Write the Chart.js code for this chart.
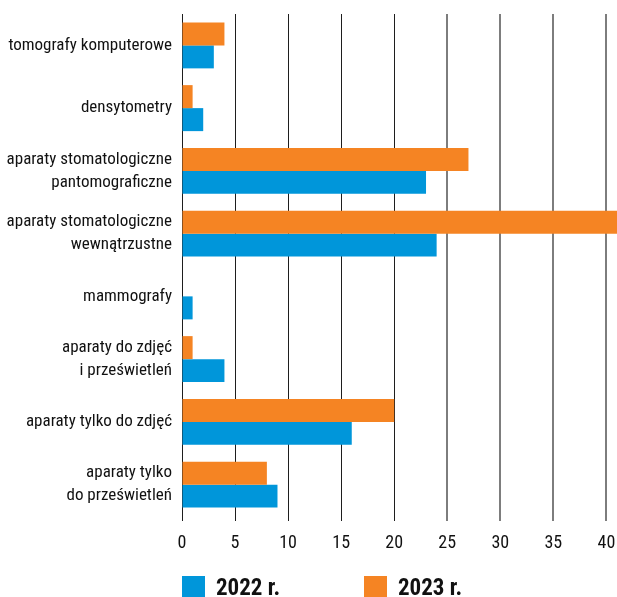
<!DOCTYPE html>
<html lang="pl">
<head>
<meta charset="utf-8">
<script src="https://cdn.jsdelivr.net/npm/chart.js@4"></script>
<style>
  html, body { margin: 0; padding: 0; background: #fff; }
  #wrap { position: relative; width: 617px; height: 597px; }
  canvas { display: block; }
  #legend {
    position: absolute; left: 182px; top: 576px;
    font-family: "Roboto Condensed", "DejaVu Sans Condensed", sans-serif;
    font-weight: bold; font-size: 23px; color: #111;
  }
  .item { position: absolute; top: 0; white-space: nowrap; }
  .box { position: absolute; left: 0; top: 0; width: 23px; height: 22px; }
  .txt { position: absolute; left: 34px; top: -1px; line-height: 26px; }
</style>
</head>
<body>
<div id="wrap">
  <canvas id="devChart" width="617" height="597"></canvas>
  <div id="legend"></div>
</div>
<script>
const categories = [
  "tomografy komputerowe",
  "densytometry",
  ["aparaty stomatologiczne", "pantomograficzne"],
  ["aparaty stomatologiczne", "wewnątrzustne"],
  "mammografy",
  ["aparaty do zdjęć", "i prześwietleń"],
  "aparaty tylko do zdjęć",
  ["aparaty tylko", "do prześwietleń"]
];
const values2022 = [3, 2, 23, 24, 1, 4, 16, 9];
const values2023 = [4, 1, 27, 41, 0, 1, 20, 8];
const xTicks = [0, 5, 10, 15, 20, 25, 30, 35, 40];

const blue = "#0096da";
const orange = "#f58423";
const labelFont = "'Roboto Condensed', 'DejaVu Sans Condensed', sans-serif";

const ctx = document.getElementById("devChart").getContext("2d");

new Chart(ctx, {
  type: "bar",
  data: {
    labels: categories,
    datasets: [
      { label: "2023 r.", data: values2023, backgroundColor: orange },
      { label: "2022 r.", data: values2022, backgroundColor: blue }
    ]
  },
  options: {
    indexAxis: "y",
    responsive: false,
    animation: false,
    layout: { padding: { top: 14, right: 0, left: 0, bottom: 0 } },
    datasets: { bar: { categoryPercentage: 0.733, barPercentage: 1 } },
    plugins: {
      legend: { display: false },
      tooltip: { enabled: false }
    },
    scales: {
      x: {
        min: 0,
        max: 41,
        afterBuildTicks: (scale) => {
          scale.ticks = xTicks.map(v => ({ value: v }));
        },
        afterFit: (scale) => {
          scale.height = 81;
          scale.paddingLeft = 0;
          scale.paddingRight = 0;
        },
        border: { display: false },
        grid: {
          color: (c) => (c.tick && c.tick.value > 20 ? "#7d7d7d" : "#1e1e1e"),
          lineWidth: (c) => (c.tick && c.tick.value > 20 ? 2 : 1),
          tickLength: 5
        },
        ticks: {
          color: "#111",
          padding: 12,
          maxRotation: 0,
          font: { family: labelFont, size: 18 }
        }
      },
      y: {
        afterFit: (scale) => {
          scale.width = 182;
          scale.paddingTop = 0;
          scale.paddingBottom = 0;
        },
        border: { display: false },
        grid: { display: false, drawTicks: false },
        ticks: {
          color: "#111",
          padding: 10,
          font: { family: labelFont, size: 17, lineHeight: 1.36 }
        }
      }
    }
  }
});

// legend below the axis, 2022 first
const legendItems = [
  { text: "2022 r.", color: blue, left: 0 },
  { text: "2023 r.", color: orange, left: 182 }
];
const legend = document.getElementById("legend");
legendItems.forEach(it => {
  const el = document.createElement("div");
  el.className = "item";
  el.style.left = it.left + "px";
  el.innerHTML = `<span class="box" style="background:${it.color}"></span><span class="txt">${it.text}</span>`;
  legend.appendChild(el);
});
</script>
</body>
</html>
